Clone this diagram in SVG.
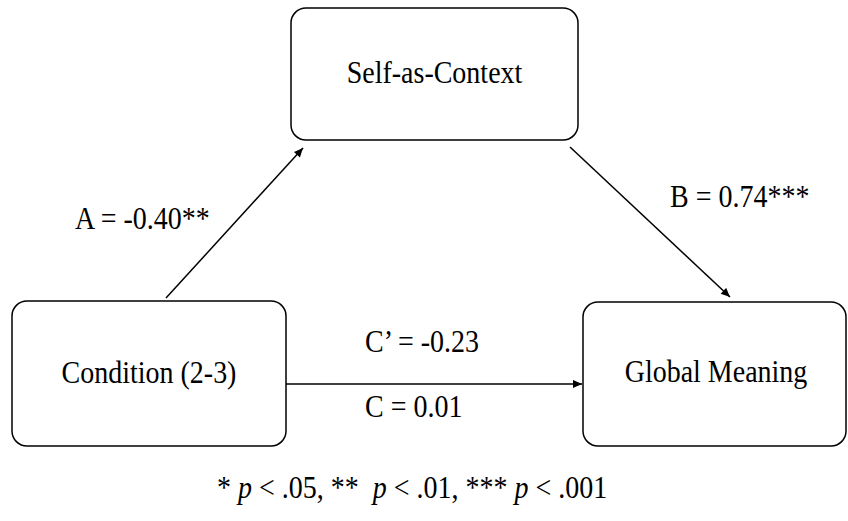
<svg xmlns="http://www.w3.org/2000/svg" width="848" height="521" viewBox="0 0 848 521">
  <style>
    .box { fill: #ffffff; stroke: #000000; stroke-width: 1.5; }
    .lbl { font-family: "Liberation Serif", "Times New Roman", serif; font-size: 28px; fill: #000000; }
    .mid { text-anchor: middle; }
    .edge { stroke: #000000; stroke-width: 1.5; fill: none; marker-end: url(#arrow); }
    .it { font-style: italic; }
  </style>
  <defs>
    <marker id="arrow" viewBox="0 0 10 10" refX="10" refY="5" markerWidth="10" markerHeight="9" markerUnits="userSpaceOnUse" orient="auto">
      <path d="M0,0.5 L10,5 L0,9.5 Z" fill="#000000"/>
    </marker>
  </defs>
  <rect width="848" height="521" fill="#ffffff"/>

  <!-- labels are set in a slightly tall face: each text is placed by translate, then stretched vertically -->
  <g id="node-self-as-context">
    <rect class="box" x="291" y="8" width="287" height="132" rx="15" ry="15"/>
    <text class="lbl mid" transform="translate(434.5,83) scale(1,1.15)">Self-as-Context</text>
  </g>

  <g id="node-condition">
    <rect class="box" x="12" y="301" width="274" height="145" rx="15" ry="15"/>
    <text class="lbl mid" transform="translate(149,383) scale(1,1.15)">Condition (2-3)</text>
  </g>

  <g id="node-global-meaning">
    <rect class="box" x="583" y="302" width="263" height="144" rx="15" ry="15"/>
    <text class="lbl mid" transform="translate(716,382) scale(1,1.15)">Global Meaning</text>
  </g>

  <g id="connectors">
    <line class="edge" x1="166" y1="298" x2="303" y2="148"/>
    <line class="edge" x1="570" y1="147" x2="730" y2="297"/>
    <line class="edge" x1="286" y1="384" x2="582" y2="384"/>
  </g>

  <g id="edge-labels">
    <text class="lbl" transform="translate(75,229) scale(1,1.15)">A = -0.40**</text>
    <text class="lbl" transform="translate(670,207) scale(1,1.15)">B = 0.74***</text>
    <text class="lbl" transform="translate(365,352) scale(1,1.15)">C’ = -0.23</text>
    <text class="lbl" transform="translate(365,417) scale(1,1.15)">C = 0.01</text>
  </g>

  <text class="lbl" transform="translate(217,498) scale(1,1.15)" xml:space="preserve">* <tspan class="it">p</tspan> &lt; .05, **  <tspan class="it">p</tspan> &lt; .01, *** <tspan class="it">p</tspan> &lt; .001</text>
</svg>
